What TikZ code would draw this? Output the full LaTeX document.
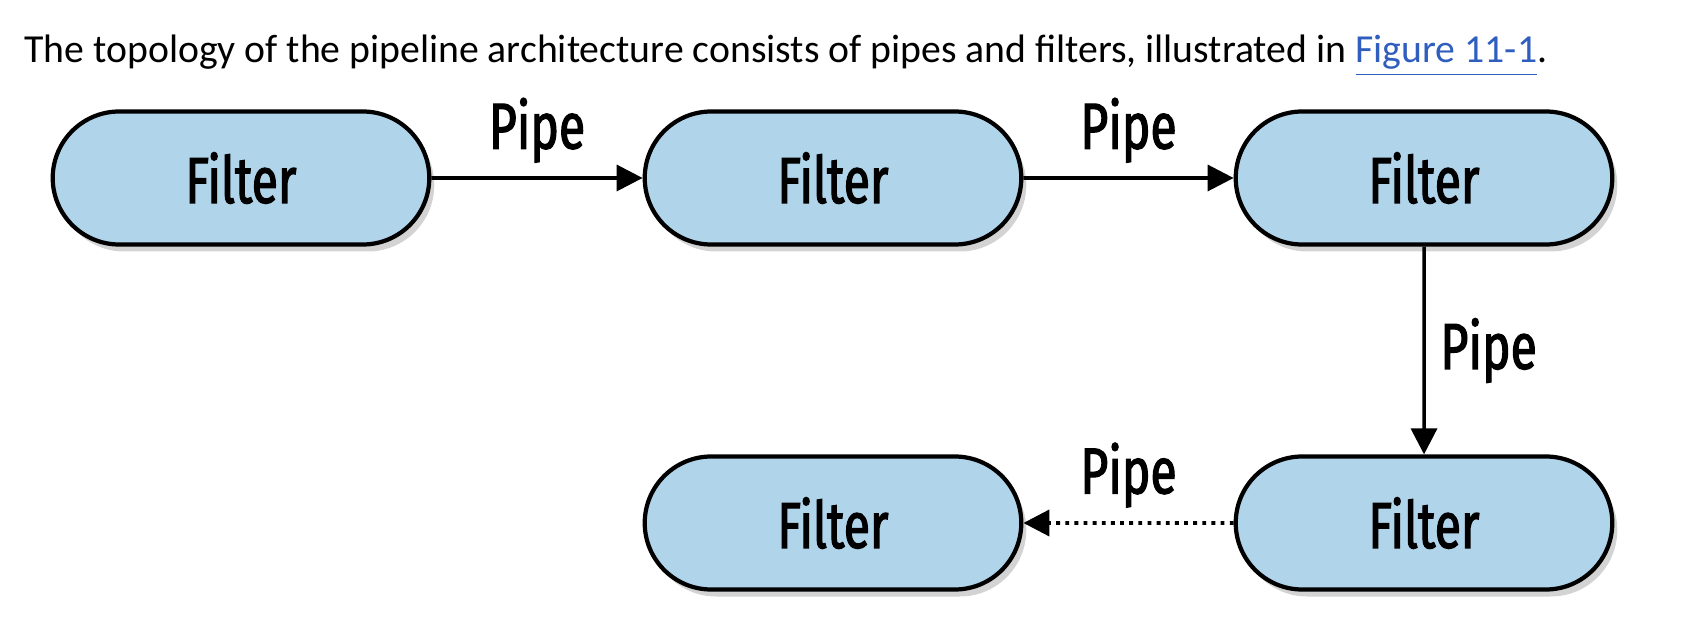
\documentclass[tikz,border=0pt]{standalone}
\usepackage{fontspec}
\setmainfont{Carlito}
\newfontfamily\filterfont[FakeStretch=0.74, FakeBold=1.8]{Fira Sans}
\usepackage{xcolor}
\usepackage{tikz}
\usetikzlibrary{arrows.meta,positioning,shapes.misc,shadows}

\definecolor{filterblue}{RGB}{176,212,234}
\definecolor{linkblue}{RGB}{47,94,190}

\begin{document}
\begin{tikzpicture}[
  font=\filterfont\fontsize{18.5}{22}\selectfont,
  filter/.style={rounded rectangle, draw, line width=1.2pt, fill=filterblue, minimum width=4.0cm, minimum height=1.33cm,
    drop shadow={shadow xshift=0.05cm, shadow yshift=-0.07cm, opacity=0.35}},
  pipe/.style={-{Triangle[length=2.6mm,width=2.6mm]}, line width=1pt},
  dotpipe/.style={-{Triangle[length=2.6mm,width=2.6mm]}, line width=1.1pt, dash pattern=on 1.1pt off 1.5pt}
]
\useasboundingbox (0,0) rectangle (16.98,-6.24);

\node[anchor=west, font=\fontsize{11.3}{13}\selectfont] (intro) at (0.12,-0.56)
  {The topology of the pipeline architecture consists of pipes and filters, illustrated in \textcolor{linkblue}{\underline{Figure 11-1}}.};

\node[filter] (f1) at (2.41,-1.78) {Filter};
\node[filter] (f2) at (8.33,-1.78) {Filter};
\node[filter] (f3) at (14.24,-1.78) {Filter};
\node[filter] (f4) at (14.24,-5.23) {Filter};
\node[filter] (f5) at (8.33,-5.23) {Filter};

\draw[pipe] (f1) -- (f2) node[midway,above=0.02cm]{Pipe};
\draw[pipe] (f2) -- (f3) node[midway,above=0.02cm]{Pipe};
\draw[pipe] (f3) -- (f4) node[midway,right=0.03cm]{Pipe};
\draw[dotpipe] (f4) -- (f5) node[midway,above=0.02cm]{Pipe};
\end{tikzpicture}
\end{document}
